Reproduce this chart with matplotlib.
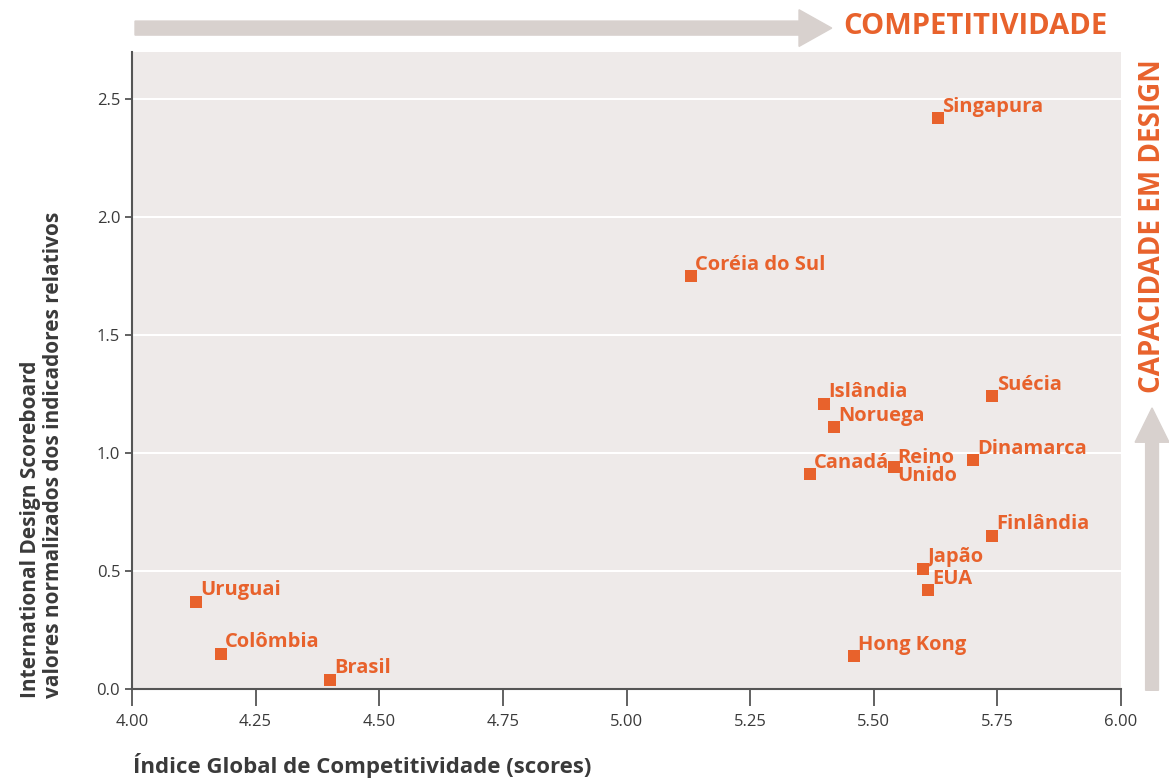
import matplotlib.pyplot as plt
from matplotlib.patches import FancyArrow

# dados: índice de competitividade x capacidade em design
paises = ["Singapura", "Coréia do Sul", "Islândia", "Noruega", "Canadá",
          "Reino\nUnido", "Dinamarca", "Suécia", "Finlândia", "Japão",
          "EUA", "Hong Kong", "Uruguai", "Colômbia", "Brasil"]
competitividade = [5.63, 5.13, 5.40, 5.42, 5.37, 5.54, 5.70, 5.74, 5.74,
                   5.60, 5.61, 5.46, 4.13, 4.18, 4.40]
design = [2.42, 1.75, 1.21, 1.11, 0.91, 0.94, 0.97, 1.24, 0.65,
          0.51, 0.42, 0.14, 0.37, 0.15, 0.04]
xticks = [4.00, 4.25, 4.50, 4.75, 5.00, 5.25, 5.50, 5.75, 6.00]
yticks = [0.0, 0.5, 1.0, 1.5, 2.0, 2.5]

laranja = "#e8622c"
cinza_seta = "#d8d1ce"
fundo = "#eeeae9"
texto = "#3a3a3a"

plt.rcParams["font.family"] = ["Open Sans", "DejaVu Sans"]

fig = plt.figure(figsize=(11.69, 7.8), dpi=100)
ax = fig.add_axes([0.1129, 0.1167, 0.8461, 0.8166])
ax.set_facecolor(fundo)

ax.scatter(competitividade, design, marker="s", s=70, color=laranja,
           zorder=3, linewidths=0)

for nome, x, y in zip(paises, competitividade, design):
    if "\n" in nome:
        ax.annotate(nome, (x, y), xytext=(3, 0), textcoords="offset points",
                    ha="left", va="center", color=laranja, fontsize=14.5,
                    fontweight="bold", linespacing=0.85)
    else:
        ax.annotate(nome, (x, y), xytext=(3, 1), textcoords="offset points",
                    ha="left", va="bottom", color=laranja, fontsize=14.5,
                    fontweight="bold")

ax.set_xlim(4.0, 6.0)
ax.set_ylim(0.0, 2.7)
ax.set_xticks(xticks)
ax.set_xticklabels([f"{v:.2f}" for v in xticks])
ax.set_yticks(yticks)
ax.set_yticklabels([f"{v:.1f}" for v in yticks])
ax.grid(axis="y", color="white", linewidth=1.5)
ax.set_axisbelow(True)

for lado in ["top", "right"]:
    ax.spines[lado].set_visible(False)
for lado in ["left", "bottom"]:
    ax.spines[lado].set_color("#555555")
    ax.spines[lado].set_linewidth(1.5)
ax.tick_params(axis="x", length=12, width=1.3, color="#555555",
               labelsize=12, labelcolor=texto, pad=6)
ax.tick_params(axis="y", length=5, width=1.3, color="#555555",
               labelsize=12, labelcolor=texto)

fig.text(0.036, 0.105, "International Design Scoreboard\n"
         "valores normalizados dos indicadores relativos",
         fontsize=15, fontweight="bold", color=texto, rotation=90,
         ha="center", va="bottom", multialignment="left", linespacing=1.15)
fig.text(0.114, 0.019, "Índice Global de Competitividade (scores)",
         fontsize=16, fontweight="bold", color=texto, ha="left",
         va="center")

# setas indicativas
fig.patches.append(FancyArrow(0.1155, 0.964, 0.596, 0, width=0.018,
                              head_width=0.047, head_length=0.028,
                              length_includes_head=True, color=cinza_seta,
                              transform=fig.transFigure, figure=fig))
fig.text(0.721, 0.966, "COMPETITIVIDADE", fontsize=21, fontweight="bold",
         color=laranja, ha="left", va="center")

fig.patches.append(FancyArrow(0.9855, 0.115, 0, 0.362, width=0.011,
                              head_width=0.029, head_length=0.044,
                              length_includes_head=True, color=cinza_seta,
                              transform=fig.transFigure, figure=fig))
fig.text(0.9855, 0.71, "CAPACIDADE EM DESIGN", fontsize=20,
         fontweight="bold", color=laranja, ha="center", va="center",
         rotation=90)

fig.savefig("out.png", dpi=100)
